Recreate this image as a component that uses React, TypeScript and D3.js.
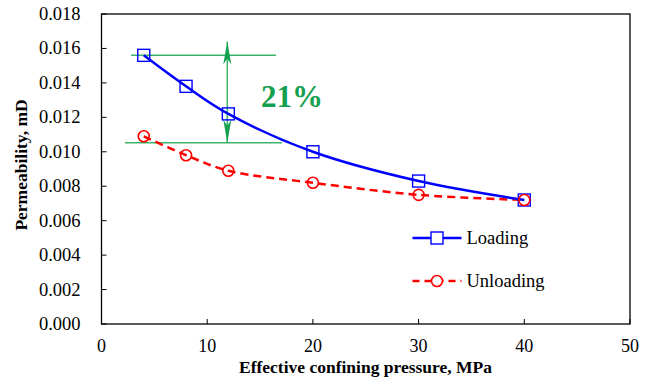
import React from "react"
import * as d3 from "d3"

const pressure = [4, 8, 12, 20, 30, 40]
const loading = [0.0156, 0.0138, 0.0122, 0.01, 0.0083, 0.0072]
const unloading = [0.0109, 0.0098, 0.0089, 0.0082, 0.0075, 0.0072]
const xTicks = [0, 10, 20, 30, 40, 50]
const yTicks = [0, 0.002, 0.004, 0.006, 0.008, 0.01, 0.012, 0.014, 0.016, 0.018]

const W = 654
const H = 379
const M = { top: 14, right: 24, bottom: 55, left: 101.5 }
const FONT = '"Liberation Serif", "Times New Roman", Times, serif'
const GREEN_LINE = "#3cb36a"
const GREEN_TEXT = "#15a04f"

export default function App() {
  const x = d3.scaleLinear().domain([0, 50]).range([M.left, W - M.right])
  const y = d3.scaleLinear().domain([0, 0.018]).range([H - M.bottom, M.top])

  const line = d3
    .line<number>()
    .x((_, i) => x(pressure[i]))
    .y((d) => y(d))
    .curve(d3.curveCatmullRom.alpha(0.5))

  const top = loading[0]
  const bottom = 0.01052
  const arrowX = x(11.9)

  // slim arrowhead pointing toward (tx, ty)
  const head = (tx: number, ty: number, dir: number) => {
    const len = 20
    const half = 4
    const by = ty + dir * len
    return `M${tx},${ty} L${tx - half},${by + dir * 3} L${tx},${by - dir * 3} L${tx + half},${by + dir * 3} Z`
  }

  return (
    <svg
      width={W}
      height={H}
      style={{ position: "absolute", left: 0, top: 0, background: "#fff", fontFamily: FONT }}
    >
      {/* frame */}
      <rect
        x={M.left}
        y={M.top}
        width={W - M.left - M.right}
        height={H - M.top - M.bottom}
        fill="none"
        stroke="#000"
        strokeWidth={1.3}
      />
      {/* x ticks */}
      {xTicks.map((t) => (
        <g key={"x" + t}>
          <line x1={x(t)} x2={x(t)} y1={y(0)} y2={y(0) - 5} stroke="#000" strokeWidth={1} />
          <text x={x(t)} y={y(0) + 28} textAnchor="middle" fontSize={18} style={{ fontFamily: FONT }}>
            {t}
          </text>
        </g>
      ))}
      {/* y ticks */}
      {yTicks.map((t) => (
        <g key={"y" + t}>
          <line x1={x(0)} x2={x(0) + 5} y1={y(t)} y2={y(t)} stroke="#000" strokeWidth={1} />
          <text x={x(0) - 21} y={y(t) + 6} textAnchor="end" fontSize={18.5} style={{ fontFamily: FONT }}>
            {t.toFixed(3)}
          </text>
        </g>
      ))}
      <text x={365.5} y={373} textAnchor="middle" fontSize={17.5} fontWeight="bold" style={{ fontFamily: FONT }}>
        Effective confining pressure, MPa
      </text>
      <text
        transform={`translate(27,165) rotate(-90)`}
        textAnchor="middle"
        fontSize={17.5}
        fontWeight="bold"
        style={{ fontFamily: FONT }}
      >
        Permeability, mD
      </text>

      {/* annotation */}
      <line x1={131} x2={276} y1={y(top)} y2={y(top)} stroke={GREEN_LINE} strokeWidth={1.5} />
      <line x1={125} x2={282} y1={y(bottom)} y2={y(bottom)} stroke={GREEN_LINE} strokeWidth={1.5} />
      <line x1={arrowX} x2={arrowX} y1={y(0.0164)} y2={y(bottom)} stroke={GREEN_LINE} strokeWidth={1.5} />
      <path d={head(arrowX, y(0.0164), 1)} fill={GREEN_TEXT} />
      <path d={head(arrowX, y(bottom), -1)} fill={GREEN_TEXT} />
      <text x={292} y={107} textAnchor="middle" fontSize={31} fontWeight="bold" fill={GREEN_TEXT} style={{ fontFamily: FONT }}>
        21%
      </text>

      {/* series */}
      <path d={line(unloading) ?? ""} fill="none" stroke="#ff0000" strokeWidth={2.5} strokeDasharray="8,5" />
      <path d={line(loading) ?? ""} fill="none" stroke="#0000ff" strokeWidth={2.5} />
      {loading.map((d, i) => (
        <rect
          key={"l" + i}
          x={x(pressure[i]) - 6}
          y={y(d) - 6}
          width={12}
          height={12}
          fill="none"
          stroke="#0000ff"
          strokeWidth={1.4}
        />
      ))}
      {unloading.map((d, i) => (
        <circle key={"u" + i} cx={x(pressure[i])} cy={y(d)} r={5.5} fill="none" stroke="#ff0000" strokeWidth={1.6} />
      ))}

      {/* legend */}
      <line x1={412.5} x2={461.5} y1={238} y2={238} stroke="#0000ff" strokeWidth={2.5} />
      <rect x={431} y={232} width={12} height={12} fill="#fff" stroke="#0000ff" strokeWidth={1.4} />
      <text x={466.5} y={244} fontSize={18.5} style={{ fontFamily: FONT }}>
        Loading
      </text>
      <line x1={412.5} x2={461.5} y1={281} y2={281} stroke="#ff0000" strokeWidth={2.5} strokeDasharray="7,5" />
      <circle cx={437} cy={281} r={5.5} fill="#fff" stroke="#ff0000" strokeWidth={1.6} />
      <text x={466.5} y={287} fontSize={18.5} style={{ fontFamily: FONT }}>
        Unloading
      </text>
    </svg>
  )
}
